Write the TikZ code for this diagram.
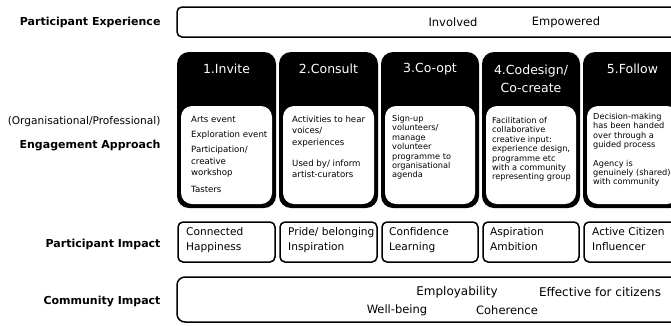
\documentclass[tikz,border=0pt]{standalone}
\usepackage{fontspec}
\setmainfont{DejaVu Sans}
\begin{document}
\begin{tikzpicture}[x=1pt,y=-1pt,
  rowlabel/.style={anchor=east,font=\fontsize{11}{13}\selectfont\bfseries},
  framebox/.style={draw=black,line width=1.5pt,rounded corners=5pt},
  cardhead/.style={text=white,align=center,font=\fontsize{12.5}{18}\selectfont},
  cardtext/.style={anchor=north west,align=left,inner sep=0pt,font=\fontsize{8.2}{9.4}\selectfont},
  impacttext/.style={anchor=north west,align=left,inner sep=0pt,font=\fontsize{10.6}{15}\selectfont},
  plaintext/.style={font=\fontsize{11.5}{13}\selectfont}]
  \useasboundingbox (0,0) rectangle (671,325);
  \clip (0,0) rectangle (671,325);

  % row labels
  \node[rowlabel] (labexp) at (164,22) {Participant Experience};
  \node[anchor=east,font=\fontsize{10.6}{12}\selectfont] (laborg) at (164,122) {(Organisational/Professional)};
  \node[rowlabel] (labeng) at (164,146) {Engagement Approach};
  \node[rowlabel] (labpimp) at (164,244) {Participant Impact};
  \node[rowlabel] (labcimp) at (164,301) {Community Impact};

  % participant experience
  \draw[framebox] (177,7) rectangle (700,37);
  \node[plaintext] (involved) at (453,22) {Involved};
  \node[plaintext] (empowered) at (566,22) {Empowered};

  \begin{scope}[xshift=177pt]
   \fill[black,rounded corners=12pt] (0,52) rectangle (99,208);
   \fill[white,rounded corners=11pt] (4,106) rectangle (95,204);
   \node[cardhead] (head1) at (49.5,69) {1.Invite};
   \node[cardtext,font=\fontsize{8.6}{11.2}\selectfont] (body1) at (14,116)
    {Arts event\\[4pt] Exploration event\\[4pt] Participation/\\ creative\\ workshop\\[6pt] Tasters};
   \draw[framebox] (1,222) rectangle (98,262);
   \node[impacttext] (imp1) at (9,227) {Connected\\ Happiness};
  \end{scope}

  \begin{scope}[xshift=279pt]
   \fill[black,rounded corners=12pt] (0,52) rectangle (99,208);
   \fill[white,rounded corners=11pt] (4,106) rectangle (95,204);
   \node[cardhead] (head2) at (49.5,69) {2.Consult};
   \node[cardtext,font=\fontsize{8.6}{11.2}\selectfont] (body2) at (13,116)
    {Activities to hear\\ voices/\\ experiences\\[10pt] Used by/ inform\\ artist-curators};
   \draw[framebox] (1,222) rectangle (98,262);
   \node[impacttext] (imp2) at (9,227) {Pride/ belonging\\ Inspiration};
  \end{scope}

  \begin{scope}[xshift=381pt]
   \fill[black,rounded corners=12pt] (0,52) rectangle (98,208);
   \fill[white,rounded corners=11pt] (4,106) rectangle (94,204);
   \node[cardhead] (head3) at (49,69) {3.Co-opt};
   \node[cardtext] (body3) at (11,115)
    {Sign-up\\ volunteers/\\ manage\\ volunteer\\ programme to\\ organisational\\ agenda};
   \draw[framebox] (1,222) rectangle (97,262);
   \node[impacttext] (imp3) at (8,227) {Confidence\\ Learning};
  \end{scope}

  \begin{scope}[xshift=482pt]
   \fill[black,rounded corners=12pt] (0,52) rectangle (98,208);
   \fill[white,rounded corners=11pt] (4,106) rectangle (94,204);
   \node[cardhead] (head4) at (49,79) {4.Codesign/\\ Co-create};
   \node[cardtext] (body4) at (10,117)
    {Facilitation of\\ collaborative\\ creative input:\\ experience design,\\ programme etc\\ with a community\\ representing group};
   \draw[framebox] (1,222) rectangle (97,262);
   \node[impacttext] (imp4) at (8,227) {Aspiration\\ Ambition};
  \end{scope}

  \begin{scope}[xshift=583pt]
   \fill[black,rounded corners=12pt] (0,52) rectangle (99,208);
   \fill[white,rounded corners=11pt] (4,106) rectangle (95,204);
   \node[cardhead] (head5) at (49.5,69) {5.Follow};
   \node[cardtext] (body5) at (10,113)
    {Decision-making\\ has been handed\\ over through a\\ guided process\\[9pt] Agency is\\ genuinely (shared)\\ with community};
   \draw[framebox] (1,222) rectangle (98,262);
   \node[impacttext] (imp5) at (9,227) {Active Citizen\\ Influencer};
  \end{scope}

  % community impact
  \draw[framebox,rounded corners=8pt] (177,277) rectangle (700,322);
  \node[plaintext,font=\fontsize{12}{14}\selectfont] (employ) at (457,292) {Employability};
  \node[plaintext,font=\fontsize{12}{14}\selectfont] (effective) at (600,292) {Effective for citizens};
  \node[plaintext] (wellbeing) at (397,310) {Well-being};
  \node[plaintext] (coherence) at (507,310) {Coherence};
\end{tikzpicture}
\end{document}
